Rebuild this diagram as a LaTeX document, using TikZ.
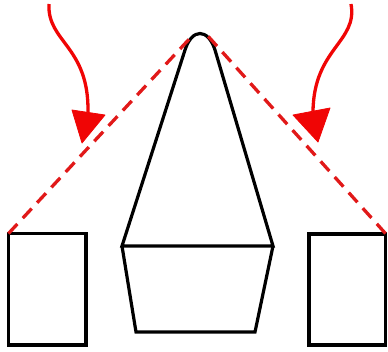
\documentclass[tikz,border=0pt]{standalone}
\usetikzlibrary{arrows.meta}
\definecolor{dashred}{RGB}{225,25,25}
\definecolor{arrred}{RGB}{240,5,5}
\tikzset{
  outline/.style={draw=black,line width=3.2pt,line join=miter},
  sightline/.style={draw=dashred,line width=3.3pt,dash pattern=on 13pt off 8pt},
  shaft/.style={draw=arrred,line width=3.3pt},
  head/.style={fill=arrred,draw=arrred,line width=0.8pt,line join=round}
}
\begin{document}
\begin{tikzpicture}[x=1pt,y=-1pt]
\useasboundingbox (0,0) rectangle (388,351);
% named corners
\coordinate (LRtl) at (8.5,233.5);
\coordinate (RRtr) at (385.5,233.5);
\coordinate (apexL) at (193,35);
\coordinate (apexR) at (207,35);
% boxes
\draw[outline] (8.5,233.5) rectangle (86,345);
\draw[outline] (309,234) rectangle (385.5,345);
% central shape
\draw[outline] (122,246) -- (185,50) .. controls (192,28) and (208,28) .. (215,50) -- (273,246) -- cycle;
\draw[outline] (122,246) -- (136,332) -- (255,332) -- (273,246);
% dashed sight lines
\draw[sightline] (LRtl) -- (apexL);
\draw[sightline] (RRtr) -- (apexR);
% curved arrows
\draw[shaft] (49,4) .. controls (47,42) and (89,46) .. (88,112);
\fill[head] (72,110) -- (105,115) -- (82,143) -- cycle;
\draw[shaft] (351,4) .. controls (358,42) and (314,48) .. (313,111);
\fill[head] (293,115) -- (330,108) -- (318,142) -- cycle;
\end{tikzpicture}
\end{document}
